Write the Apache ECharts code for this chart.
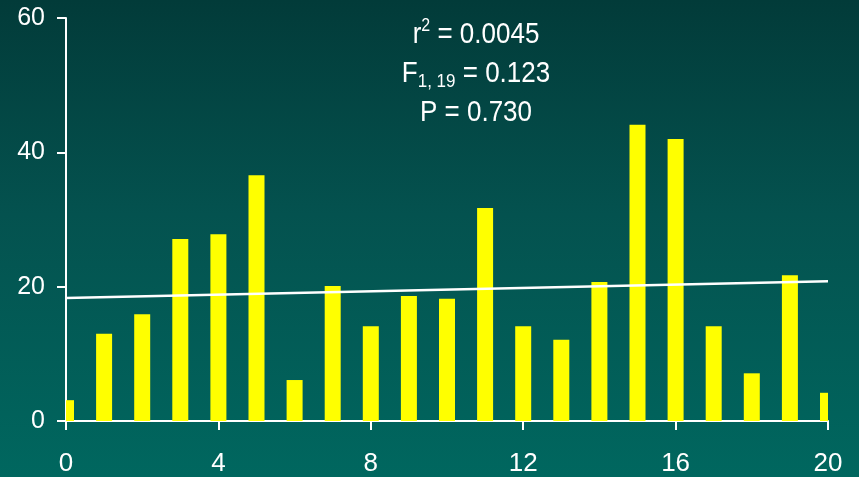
<!DOCTYPE html>
<html>
<head>
<meta charset="utf-8">
<script src="https://cdn.jsdelivr.net/npm/echarts@6/dist/echarts.min.js"></script>
<style>
html,body{margin:0;padding:0;}
#c{width:859px;height:477px;background:linear-gradient(to bottom,#023b39 0%,#04524f 45%,#00675f 100%);}
</style>
</head>
<body>
<div id="c"></div>
<script>
const xValues = [0,1,2,3,4,5,6,7,8,9,10,11,12,13,14,15,16,17,18,19,20];
const barValues = [3.1,13,15.9,27.1,27.8,36.6,6.1,20.1,14.1,18.6,18.2,31.7,14.1,12.1,20.7,44.1,42.0,14.1,7.1,21.7,4.2];
const fitLine = [[0,18.3],[20,20.8]];
const xTicks = {min:0,max:20,interval:4};
const yTicks = {min:0,max:60,interval:20};
const statLines = ['{t|r}{sup|2}{t| = 0.0045}','{t|F}{sub|1, 19}{t| = 0.123}','{t|P = 0.730}'];

const chart = echarts.init(document.getElementById('c'));
const font = 'Liberation Sans, Arial, sans-serif';
const BAR_W = 16;
const axisLine = {show:true,lineStyle:{color:'#fff',width:2}};
const axisTick = {show:true,inside:false,length:9,lineStyle:{color:'#fff',width:2}};
chart.setOption({
  backgroundColor:'transparent',
  animation:false,
  grid:{left:66,right:31,top:18,bottom:56,containLabel:false},
  xAxis:{type:'value',min:xTicks.min,max:xTicks.max,interval:xTicks.interval,
    axisLine:axisLine,axisTick:axisTick,splitLine:{show:false},
    axisLabel:{color:'#fff',fontSize:26,fontFamily:font,margin:30}},
  yAxis:{type:'value',min:yTicks.min,max:yTicks.max,interval:yTicks.interval,
    axisLine:axisLine,axisTick:axisTick,splitLine:{show:false},
    axisLabel:{color:'#fff',fontSize:25,fontFamily:font,margin:21}},
  series:[
    {type:'custom',data:xValues.map((x,i)=>[x,barValues[i]]),z:2,
      renderItem:function(params,api){
        const p = api.coord([api.value(0),api.value(1)]);
        const p0 = api.coord([api.value(0),0]);
        const cs = params.coordSys;
        const shape = echarts.graphic.clipRectByRect(
          {x:p[0]-BAR_W/2,y:p[1],width:BAR_W,height:p0[1]-p[1]},
          {x:cs.x,y:cs.y,width:cs.width,height:cs.height});
        return shape && {type:'rect',shape:shape,style:{fill:'#ffff00'}};
      }},
    {type:'line',data:fitLine,symbol:'none',lineStyle:{color:'#fff',width:2.5},z:3}
  ],
  graphic:statLines.map((s,i)=>({
    type:'text',
    z:10,
    x:476,y:35+i*39,
    scaleY:1.1,
    style:{
      text:s,
      x:0,y:0,
      align:'center',verticalAlign:'middle',
      fill:'#fff',
      rich:{
        t:{fontSize:26,fontFamily:font,fill:'#fff'},
        sup:{fontSize:16,fontFamily:font,fill:'#fff',padding:[0,0,16,0]},
        sub:{fontSize:17,fontFamily:font,fill:'#fff',padding:[14,0,0,0]}
      }
    }
  }))
});
</script>
</body>
</html>
